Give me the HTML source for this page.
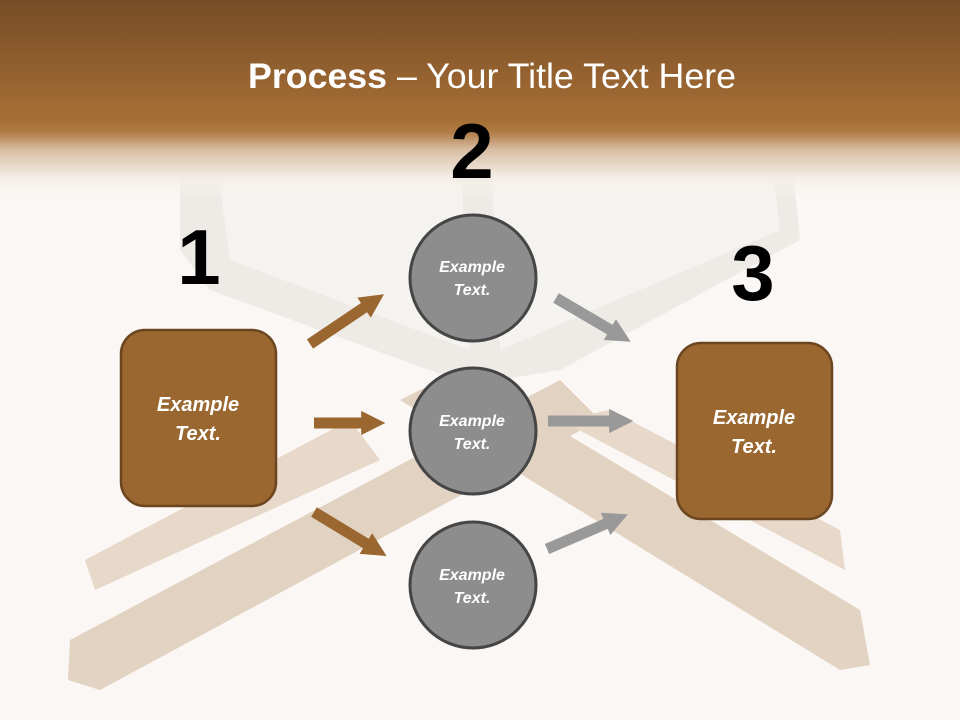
<!DOCTYPE html>
<html><head><meta charset="utf-8"><style>
html,body{margin:0;padding:0;width:960px;height:720px;overflow:hidden;background:#faf7f4}
svg{display:block}
</style></head><body>
<svg width="960" height="720" xmlns="http://www.w3.org/2000/svg" font-family="Liberation Sans, sans-serif">
<defs>
<linearGradient id="hdr" x1="0" y1="0" x2="0" y2="1">
<stop offset="0" stop-color="#774c26"/>
<stop offset="0.6" stop-color="#a66f36"/>
<stop offset="0.66" stop-color="#b07a44"/>
<stop offset="0.75" stop-color="#d8bfa4"/>
<stop offset="0.88" stop-color="#f3ebe3"/>
<stop offset="1" stop-color="#faf7f4" stop-opacity="0"/>
</linearGradient>
<marker id="ab" viewBox="0 0 10 10" refX="2" refY="5" markerWidth="2.2" markerHeight="2.4" orient="auto"><path d="M0,0 L10,5 L0,10z" fill="#9b6730"/></marker>
<marker id="ag" viewBox="0 0 10 10" refX="2" refY="5" markerWidth="2.2" markerHeight="2.4" orient="auto"><path d="M0,0 L10,5 L0,10z" fill="#999"/></marker>
</defs>
<rect width="960" height="720" fill="#faf7f4"/>
<g opacity="0.35">
<polygon points="70,640 560,380 600,420 100,690 68,680" fill="#b89068"/>
<polygon points="85,560 350,420 380,460 95,590" fill="#c4a07a"/>
<polygon points="400,400 460,370 860,610 870,665 840,670" fill="#b89068"/>
<polygon points="560,420 610,410 840,530 845,570" fill="#c4a07a"/>
</g>
<g opacity="0.5">
<polygon points="180,140 470,120 790,140 800,240 560,370 470,385 210,290 180,250" fill="#e3e0db"/>
<polygon points="215,150 460,140 470,350 230,260" fill="#f2f0ec"/>
<polygon points="490,140 770,150 780,230 500,350" fill="#f2f0ec"/>
</g>
<rect x="0" y="0" width="960" height="200" fill="url(#hdr)"/>
<text x="492" y="88" text-anchor="middle" font-size="35" fill="#fff" textLength="488" lengthAdjust="spacingAndGlyphs"><tspan font-weight="bold">Process</tspan> – Your Title Text Here</text>
<text x="199" y="284" text-anchor="middle" font-size="78" font-weight="bold" fill="#000">1</text>
<text x="472" y="178" text-anchor="middle" font-size="78" font-weight="bold" fill="#000">2</text>
<text x="753" y="300" text-anchor="middle" font-size="78" font-weight="bold" fill="#000">3</text>
<rect x="121" y="330" width="155" height="176" rx="24" fill="#9b6730" stroke="#6a4520" stroke-width="2.5"/>
<text x="198" y="411" text-anchor="middle" font-size="20" font-weight="bold" font-style="italic" fill="#fff">Example</text>
<text x="198" y="440" text-anchor="middle" font-size="20" font-weight="bold" font-style="italic" fill="#fff">Text.</text>
<rect x="677" y="343" width="155" height="176" rx="24" fill="#9b6730" stroke="#6a4520" stroke-width="2.5"/>
<text x="754" y="424" text-anchor="middle" font-size="20" font-weight="bold" font-style="italic" fill="#fff">Example</text>
<text x="754" y="453" text-anchor="middle" font-size="20" font-weight="bold" font-style="italic" fill="#fff">Text.</text>
<g stroke-width="11" fill="none">
<line x1="310" y1="344" x2="368" y2="305" stroke="#9b6730" marker-end="url(#ab)"/>
<line x1="314" y1="423" x2="366" y2="423" stroke="#9b6730" marker-end="url(#ab)"/>
<line x1="314" y1="512" x2="370" y2="546" stroke="#9b6730" marker-end="url(#ab)"/>
<line x1="556" y1="298" x2="614" y2="332" stroke="#999" marker-end="url(#ag)"/>
<line x1="548" y1="421" x2="614" y2="421" stroke="#999" marker-end="url(#ag)"/>
<line x1="547" y1="549" x2="610" y2="522" stroke="#999" marker-end="url(#ag)"/>
</g>
<g fill="#8d8d8d" stroke="#454545" stroke-width="3">
<circle cx="473" cy="278" r="63"/>
<circle cx="473" cy="431" r="63"/>
<circle cx="473" cy="585" r="63"/>
</g>
<g font-size="16" font-weight="bold" font-style="italic" fill="#fff" text-anchor="middle">
<text x="472" y="272">Example</text><text x="472" y="295">Text.</text>
<text x="472" y="426">Example</text><text x="472" y="449">Text.</text>
<text x="472" y="580">Example</text><text x="472" y="603">Text.</text>
</g>
</svg>
</body></html>
